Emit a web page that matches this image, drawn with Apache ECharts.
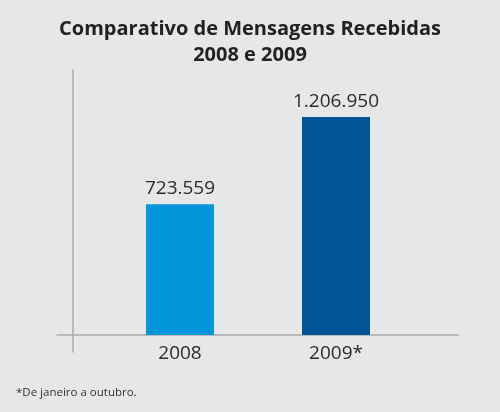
<!DOCTYPE html>
<html lang="pt">

<head>
  <meta charset="UTF-8">
  <title>Comparativo de Mensagens Recebidas</title>
</head>

<body style="margin:0;background:#e6e7e9;">
  <div id="main" style="width: 500px;height:412px;"></div>
  <script src="https://cdn.jsdelivr.net/npm/echarts@6/dist/echarts.min.js"></script>
  <script>
    const anos = ['2008', '2009*'];
    const mensagens = [723559, 1206950];
    const cores = ['#0096d9', '#005598'];

    // formato brasileiro: 1.206.950
    const fmt = (v) => String(v).replace(/\B(?=(\d{3})+(?!\d))/g, '.');

    const myChart = echarts.init(document.getElementById('main'));

    const yMin = -94000;
    const yMax = 1467000;
    const txt = '#2b2b2b';

    const option = {
      backgroundColor: '#e6e7e9',
      textStyle: { fontFamily: 'Open Sans' },
      title: {
        text: 'Comparativo de Mensagens Recebidas\n2008 e 2009',
        left: 'center',
        top: 11,
        textStyle: {
          fontSize: 20,
          fontWeight: 'bold',
          lineHeight: 26,
          color: '#222',
          fontFamily: 'Open Sans'
        }
      },
      graphic: [{
        type: 'text',
        left: 16,
        top: 387,
        style: {
          text: '*De janeiro a outubro.',
          fontSize: 11.5,
          fill: '#333',
          fontFamily: 'Open Sans'
        }
      }],
      // grid 0: só as linhas dos eixos; grid 1: as barras
      grid: [
        { left: 57, right: 42, top: 70, bottom: 60 },
        { left: 102, right: 86, top: 70, bottom: 60 }
      ],
      xAxis: [{
        type: 'category',
        gridIndex: 0,
        data: anos,
        axisLine: { onZero: true, lineStyle: { color: '#a9aaac', width: 1.5 } },
        axisTick: { show: false },
        axisLabel: { show: false }
      }, {
        type: 'category',
        gridIndex: 1,
        data: anos,
        axisLine: { show: false, onZero: false },
        axisTick: { show: false },
        // o eixo fica no fundo da grade (y=352); rótulos sobem para baixo da linha do zero
        axisLabel: { fontSize: 19, color: txt, margin: -8 }
      }],
      yAxis: [{
        type: 'value',
        gridIndex: 0,
        min: yMin,
        max: yMax,
        offset: -16,
        axisLine: { show: true, lineStyle: { color: '#a9aaac', width: 1.5 } },
        axisTick: { show: false },
        axisLabel: { show: false },
        splitLine: { show: false }
      }, {
        type: 'value',
        gridIndex: 1,
        min: yMin,
        max: yMax,
        axisLine: { show: false },
        axisTick: { show: false },
        axisLabel: { show: false },
        splitLine: { show: false }
      }],
      series: [{
        type: 'bar',
        xAxisIndex: 1,
        yAxisIndex: 1,
        barWidth: 68,
        data: mensagens.map((v, i) => ({ value: v, itemStyle: { color: cores[i] } })),
        label: {
          show: true,
          position: 'top',
          distance: 6,
          fontSize: 19,
          color: txt,
          formatter: (p) => fmt(p.value)
        }
      }]
    };

    myChart.setOption(option);
  </script>
</body>

</html>
